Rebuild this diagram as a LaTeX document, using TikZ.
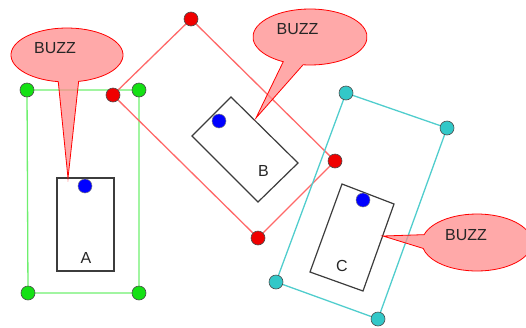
\documentclass[tikz,border=0pt]{standalone}
\usepackage{fontspec}
\setmainfont{Liberation Sans}
\definecolor{gline}{RGB}{110,240,110}
\definecolor{gdot}{RGB}{20,225,20}
\definecolor{rline}{RGB}{255,105,105}
\definecolor{rdot}{RGB}{240,0,0}
\definecolor{cline}{RGB}{80,205,205}
\definecolor{cdot}{RGB}{50,200,200}
\definecolor{bubblefill}{RGB}{255,140,140}
\definecolor{boxline}{RGB}{60,60,60}
\begin{document}
\begin{tikzpicture}[x=1pt,y=-1pt,
  frame/.style={line width=1.3pt},
  handle/.style={circle, draw=black!70, line width=0.6pt, inner sep=0pt, minimum size=14pt},
  pin/.style={circle, fill=blue, draw=black!50, line width=0.5pt, inner sep=0pt, minimum size=14pt},
  part/.style={draw=boxline, line width=1.2pt},
  bubble/.style={draw=red, fill=bubblefill, fill opacity=0.75, line width=0.8pt},
  txt/.style={font=\fontsize{16}{18}\selectfont, text=black!85, inner sep=0pt}]
\useasboundingbox (0,0) rectangle (526,327);

% ---- part A ----
\coordinate (a1) at (27,90);
\coordinate (a2) at (139,90);
\coordinate (a3) at (139,293);
\coordinate (a4) at (28,293);
\draw[frame, gline] (a1) -- (a2) -- (a3) -- (a4) -- cycle;
\node[part, minimum width=57, minimum height=93, inner sep=0pt] (boxA) at (85.5,224.5) {};
\node[txt] (labA) at (86,258) {A};
\node[pin] (pinA) at (85,186) {};
\foreach \c in {a1,a2,a3,a4} \node[handle, fill=gdot] (h\c) at (\c) {};
\coordinate (tipA) at (68,178);
\path[bubble] (67,55) ++(99:56 and 27) arc[start angle=99, end angle=438, x radius=56, y radius=27] -- (tipA) -- cycle;
\node[txt] (buzzA) at (55,48.5) {BUZZ};

% ---- part B ----
\coordinate (b1) at (113,95);
\coordinate (b2) at (191,19);
\coordinate (b3) at (335,161);
\coordinate (b4) at (258,238);
\draw[frame, rline] (b1) -- (b2) -- (b3) -- (b4) -- cycle;
\coordinate (bb1) at (231,97);
\coordinate (bb2) at (298,163);
\coordinate (bb3) at (258,202);
\coordinate (bb4) at (192,136);
\draw[part] (bb1) -- (bb2) -- (bb3) -- (bb4) -- cycle;
\node[txt] (labB) at (263.5,171) {B};
\node[pin] (pinB) at (219,121) {};
\foreach \c in {b1,b2,b3,b4} \node[handle, fill=rdot] (h\c) at (\c) {};
\coordinate (tipB) at (256,118);
\path[bubble] (310,37) ++(118:57 and 28) arc[start angle=118, end angle=457, x radius=57, y radius=28] -- (tipB) -- cycle;
\node[txt] (buzzB) at (297.5,29.5) {BUZZ};

% ---- part C ----
\coordinate (c1) at (346,93);
\coordinate (c2) at (447,128);
\coordinate (c3) at (378,319);
\coordinate (c4) at (276,282);
\draw[frame, cline] (c1) -- (c2) -- (c3) -- (c4) -- cycle;
\coordinate (cc1) at (342,184);
\coordinate (cc2) at (394,204);
\coordinate (cc3) at (363,291);
\coordinate (cc4) at (310,272);
\draw[part] (cc1) -- (cc2) -- (cc3) -- (cc4) -- cycle;
\node[txt] (labC) at (342,266) {C};
\node[pin] (pinC) at (363,200) {};
\foreach \c in {c1,c2,c3,c4} \node[handle, fill=cdot] (h\c) at (\c) {};
\coordinate (tipC) at (383,236);
\path[bubble] (477,242.5) ++(196:55 and 28.5) arc[start angle=196, end angle=528, x radius=55, y radius=28.5] -- (tipC) -- cycle;
\node[txt] (buzzC) at (466,235) {BUZZ};
\end{tikzpicture}
\end{document}
